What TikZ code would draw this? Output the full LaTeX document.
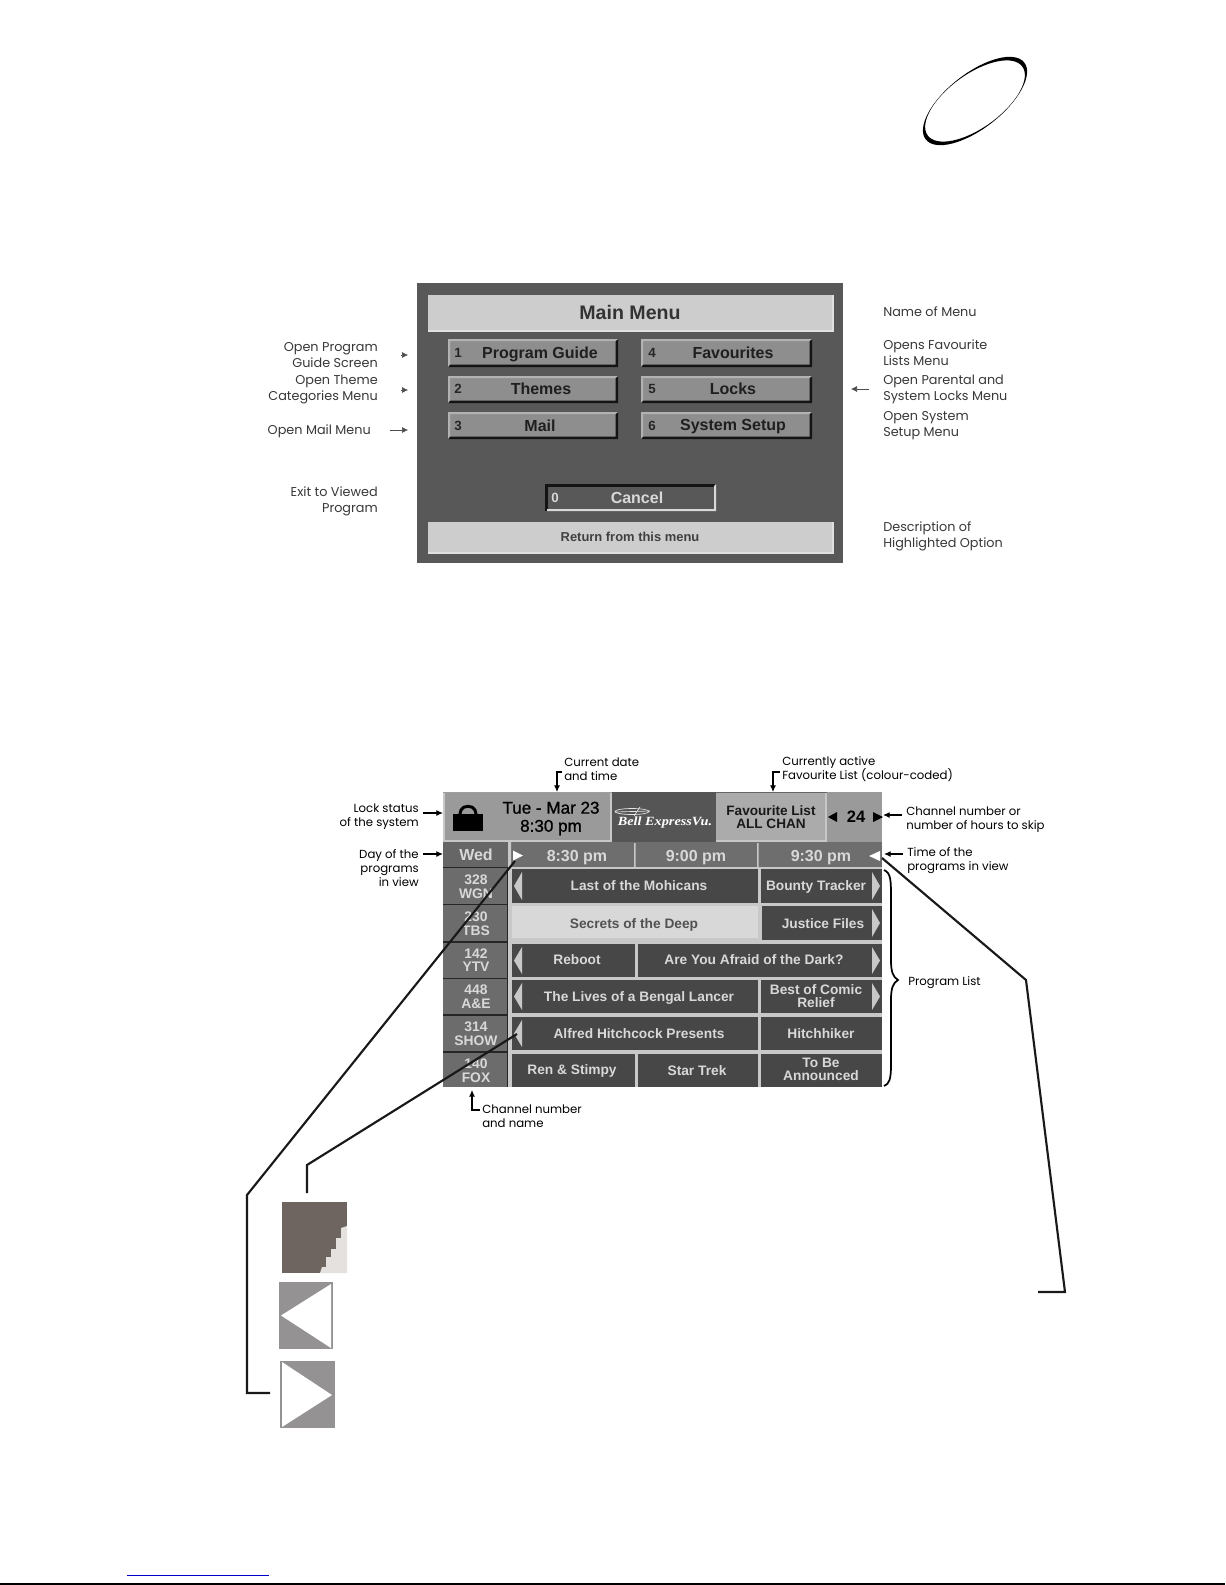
\documentclass[tikz,border=0pt]{standalone}
\usepackage{fontspec}
\setmainfont{Liberation Sans}
\newfontfamily\annfont{Poppins}
\newfontfamily\logofont{Liberation Serif}
\usetikzlibrary{arrows.meta}
\definecolor{panelA}{HTML}{585858}
\definecolor{barA}{HTML}{CDCDCD}
\definecolor{btnA}{HTML}{8E8E8E}
\definecolor{cellD}{HTML}{474747}
\definecolor{chanC}{HTML}{6C6C6C}
\definecolor{timeC}{HTML}{6E6E6E}
\definecolor{topC}{HTML}{9A9A9A}
\definecolor{favC}{HTML}{ABABAB}
\definecolor{logoC}{HTML}{555555}
\definecolor{txtL}{HTML}{D8D8D8}
\definecolor{gapC}{HTML}{C8C8C8}
\definecolor{brownC}{HTML}{6F6560}
\definecolor{lightB}{HTML}{E5E1DE}
\definecolor{triG}{HTML}{949292}
\definecolor{linkB}{HTML}{0000CC}
\tikzset{
  annA/.style={font=\annfont\fontsize{9.6}{12}\selectfont,text=black!78,inner sep=0pt},
  annB/.style={font=\annfont\fontsize{8.8}{10.5}\selectfont,text=black,inner sep=0pt},
  title/.style={font=\bfseries\fontsize{14.7}{17}\selectfont,text=black!80,inner sep=0pt},
  btntxt/.style={font=\bfseries\fontsize{12}{14}\selectfont,text=black!88,inner sep=0pt},
  btnnum/.style={font=\bfseries\fontsize{10}{12}\selectfont,text=black!85,inner sep=0pt},
  bartxt/.style={font=\bfseries\fontsize{9.7}{12}\selectfont,text=black!75,inner sep=0pt},
  head/.style={font=\fontsize{12.8}{13.6}\selectfont\addfontfeatures{FakeBold=1},text=black,align=center,inner sep=0pt},
  favt/.style={font=\bfseries\fontsize{10.2}{9.8}\selectfont,text=black!90,align=center,inner sep=0pt},
  timet/.style={font=\bfseries\fontsize{12}{14}\selectfont,text=txtL,inner sep=0pt},
  chant/.style={font=\bfseries\fontsize{10.4}{10.2}\selectfont,text=txtL,align=center,inner sep=0pt},
  prog/.style={font=\bfseries\fontsize{10.3}{9.9}\selectfont,text=txtL,align=center,inner sep=0pt},
  note/.style={-{Latex[length=5pt,width=4.5pt]},line width=0.8pt,black},
  noteA/.style={-{Latex[length=4.5pt,width=4.5pt]},line width=0.45pt,black!70},
  lead/.style={line width=1.6pt,black!90,line join=miter},
}
% raised button: x1 y1 x2 y2
\newcommand{\raisedbtn}[4]{%
  \fill[btnA] (#1,#2) rectangle (#3,#4);
  \fill[black!92] (#1,#4) -- (#3,#4) -- (#3,#2) -- (#3-2.5,#2+2) -- (#3-2.5,#4-2.5) -- (#1+2,#4-2.5) -- cycle;
  \fill[black!30] (#1,#4) -- (#1,#2) -- (#3,#2) -- (#3-2.5,#2+2) -- (#1+2,#2+2) -- (#1+2,#4-2.5) -- cycle;
}
% guide cell: x1 y1 x2 y2 fill
\newcommand{\guidecell}[5]{\fill[#5] (#1,#2) rectangle (#3,#4);}
\newcommand{\leftarr}[2]{\fill[gapC] (514,{(#1+#2)/2}) -- (522,#1+3) -- (522,#2-3) -- cycle;}
\newcommand{\rightarr}[2]{\fill[gapC] (880,{(#1+#2)/2}) -- (872,#1+3) -- (872,#2-3) -- cycle;}
\begin{document}
\begin{tikzpicture}[x=0.75pt,y=-0.75pt]
\useasboundingbox (0,0) rectangle (1225,1585);
\fill[white] (0,0) rectangle (1225,1585);

% ---- swoosh at the top
\fill[black,even odd rule]
  [rotate around={38:(975,101)}] (975,101) ellipse [x radius=62.5,y radius=27.5]
  [rotate around={-2:(975,101)}] (975,101) ellipse [x radius=58.5,y radius=26.7];

% ---- main menu panel
\fill[panelA] (417,283) rectangle (843,563);
\fill[barA] (428,295) rectangle (833,331);
\draw[black!12,line width=0.9pt] (428,331) -- (833,331) -- (833,295);
\node[title] (mmtitle) at (630,312) {Main Menu};
\raisedbtn{448}{339}{618}{367}
\raisedbtn{448}{376}{618}{403}
\raisedbtn{448}{412}{618}{439}
\raisedbtn{641}{339}{812}{367}
\raisedbtn{641}{376}{812}{403}
\raisedbtn{641}{412}{812}{439}
\node[btnnum] (n1) at (458,353) {1};
\node[btnnum] (n2) at (458,389) {2};
\node[btnnum] (n3) at (458,426) {3};
\node[btnnum] (n4) at (652,353) {4};
\node[btnnum] (n5) at (652,389) {5};
\node[btnnum] (n6) at (652,426) {6};
\node[btntxt] (b1) at (540,354) {Program Guide};
\node[btntxt] (b2) at (541,389) {Themes};
\node[btntxt] (b3) at (540,426) {Mail};
\node[btntxt] (b4) at (733,353) {Favourites};
\node[btntxt] (b5) at (733,389) {Locks};
\node[btntxt] (b6) at (733,427) {System Setup};
% cancel
\fill[black!92] (545,484) rectangle (716,511);
\fill[black!15] (547,511) -- (716,511) -- (716,484) -- (714,486) -- (714,509) -- (547,509) -- cycle;
\fill[panelA] (547.5,486.5) rectangle (714,509);
\node[font=\bfseries\fontsize{10}{12}\selectfont,text=txtL,inner sep=0pt] (n0) at (555,498) {0};
\node[font=\bfseries\fontsize{12}{14}\selectfont,text=txtL,inner sep=0pt] (bcancel) at (637,498) {Cancel};
\fill[barA] (428,522) rectangle (833,553);
\draw[black!12,line width=0.9pt] (428,553) -- (833,553) -- (833,522);
\node[bartxt] (mmdesc) at (630,537) {Return from this menu};

% ---- main menu labels
\node[annA,anchor=east,align=right] (la) at (378,355) {Open Program\\Guide Screen};
\node[annA,anchor=east,align=right] (lb) at (378,389) {Open Theme\\Categories Menu};
\node[annA,anchor=east,align=right] (lc) at (371,431) {Open Mail Menu};
\node[annA,anchor=east,align=right] (ld) at (378,501) {Exit to Viewed\\Program};
\node[annA,anchor=west,align=left] (ra) at (883,312) {Name of Menu};
\node[annA,anchor=west,align=left] (rb) at (883,353) {Opens Favourite\\Lists Menu};
\node[annA,anchor=west,align=left] (rc) at (883,389) {Open Parental and\\System Locks Menu};
\node[annA,anchor=west,align=left] (rd) at (883,426) {Open System\\Setup Menu};
\node[annA,anchor=west,align=left] (re) at (883,536) {Description of\\Highlighted Option};
\coordinate (atipA) at (408,355); \coordinate (atailA) at (401,355);
\coordinate (atipB) at (408,390); \coordinate (atailB) at (401,390);
\coordinate (atipC) at (408,430); \coordinate (atailC) at (390,430);
\coordinate (atipR) at (851,389); \coordinate (atailR) at (869,389);
\draw[noteA] (atailA) -- (atipA);
\draw[noteA] (atailB) -- (atipB);
\draw[noteA] (atailC) -- (atipC);
\draw[noteA] (atailR) -- (atipR);

% ---- guide panel
\guidecell{443}{792}{612}{842}{topC}
\draw[black!38,line width=0.9pt] (443.5,792.5) -- (611,792.5);
\draw[black!22,line width=0.9pt] (444,842) -- (444,793) (444,841) -- (611,841) -- (611,793);
\guidecell{612}{792}{716}{842}{logoC}
\guidecell{716}{792}{827}{842}{favC}
\draw[black!60,line width=0.9pt] (716,792.5) -- (827,792.5);
\draw[black!22,line width=1.4pt] (716,841) -- (826,841) -- (826,793);
\guidecell{827}{792}{882}{842}{topC}
\guidecell{443}{842}{882}{867}{timeC}
\guidecell{443}{842}{508}{867}{black!60}
\fill[gapC] (508,842) rectangle (511,867) (634,843) rectangle (635.5,867) (757,843) rectangle (758.5,867);
\fill[gapC] (508,867) rectangle (882,1087);
\fill[black!85] (443,867) rectangle (508,1087);
% channel cells
\guidecell{443}{868}{507}{903.5}{chanC}
\guidecell{443}{905}{507}{941}{chanC}
\guidecell{443}{942.5}{507}{977.5}{chanC}
\guidecell{443}{979}{507}{1014}{chanC}
\guidecell{443}{1015.5}{507}{1051}{chanC}
\guidecell{443}{1052.5}{507}{1087}{chanC}
% program cells
\guidecell{512}{869}{758}{903}{cellD}
\guidecell{761}{869}{882}{903}{cellD}
\guidecell{512}{906}{758}{938}{txtL}
\guidecell{762}{906}{882}{940}{cellD}
\guidecell{512}{944}{635}{977}{cellD}
\guidecell{638}{944}{882}{977}{cellD}
\guidecell{512}{980}{758}{1013}{cellD}
\guidecell{761}{980}{882}{1013}{cellD}
\guidecell{512}{1017}{758}{1050}{cellD}
\guidecell{761}{1017}{882}{1050}{cellD}
\guidecell{512}{1054}{635}{1087}{cellD}
\guidecell{638}{1054}{758}{1087}{cellD}
\guidecell{761}{1054}{882}{1087}{cellD}
\leftarr{869}{903}\leftarr{944}{977}\leftarr{980}{1013}\leftarr{1017}{1050}
\rightarr{869}{903}\rightarr{906}{940}\rightarr{944}{977}\rightarr{980}{1013}
% lock icon
\draw[black,line width=2.2pt] (459.5,816) -- (461,810) .. controls (463,805) and (473,805) .. (475,810) -- (476.5,816);
\fill[black] (453,814) rectangle (483,831);
% header texts
\node[head] (dt) at (551,818.5) {Tue - Mar 23\\8:30 pm};
\draw[white!90!black,line width=0.5pt] (632,811.5) ellipse [x radius=17,y radius=3];
\draw[white!90!black,line width=0.5pt] (640,807) -- (634,816) (615,812) -- (650,811);
\node[font=\logofont\bfseries\itshape\fontsize{9.4}{10}\selectfont,text=white,inner sep=0pt,xscale=1.14] (logo) at (665,822) {Bell ExpressVu.};
\node[favt] (fav) at (771,817) {Favourite List\\ALL CHAN};
\fill[black] (828,817) -- (837,812) -- (837,822) -- cycle;
\node[font=\bfseries\fontsize{12.4}{14}\selectfont,text=black,inner sep=0pt] (skip) at (856,817) {24};
\fill[black] (883,817) -- (873,812) -- (873,822) -- cycle;
% time row
\node[timet] (wed) at (476,855) {Wed};
\node[timet] (t1) at (577,858) {8:30 pm};
\node[timet] (t2) at (696,858) {9:00 pm};
\node[timet] (t3) at (821,858) {9:30 pm};
\fill[white] (523,855.5) -- (513,850.5) -- (513,860.5) -- cycle;
\fill[white] (869,856) -- (880,851) -- (880,861) -- cycle;
% channels
\node[chant] (c1) at (476,887) {328\\WGN};
\node[chant] (c2) at (476,924) {230\\TBS};
\node[chant] (c3) at (476,960) {142\\YTV};
\node[chant] (c4) at (476,996.5) {448\\A\&E};
\node[chant] (c5) at (476,1034) {314\\SHOW};
\node[chant] (c6) at (476,1070.5) {140\\FOX};
% programs
\node[prog] (p1) at (639,886) {Last of the Mohicans};
\node[prog] (p2) at (816,887) {Bounty Tracker};
\node[prog,text=black!68] (p3) at (634,924.5) {Secrets of the Deep};
\node[prog] (p4) at (823,924) {Justice Files};
\node[prog] (p5) at (577,960) {Reboot};
\node[prog] (p6) at (754,960) {Are You Afraid of the Dark?};
\node[prog] (p7) at (639,997.5) {The Lives of a Bengal Lancer};
\node[prog] (p8) at (816,996) {Best of Comic\\Relief};
\node[prog] (p9) at (639,1034) {Alfred Hitchcock Presents};
\node[prog] (p10) at (821,1034) {Hitchhiker};
\node[prog] (p11) at (572,1071) {Ren \& Stimpy};
\node[prog] (p12) at (697,1071) {Star Trek};
\node[prog] (p13) at (821,1069.5) {To Be\\Announced};

% ---- guide annotations
\node[annB,anchor=west,align=left] (g1) at (564,769) {Current date\\and time};
\node[annB,anchor=west,align=left] (g2) at (782,769) {Currently active\\Favourite List (colour-coded)};
\node[annB,anchor=east,align=right] (g3) at (419,817) {Lock status\\of the system};
\node[annB,anchor=east,align=right] (g4) at (419,868) {Day of the\\programs\\in view};
\node[annB,anchor=west,align=left] (g5) at (906,819.5) {Channel number or\\number of hours to skip};
\node[annB,anchor=west,align=left] (g6) at (907,861) {Time of the\\programs in view};
\node[annB,anchor=west,align=left] (g7) at (482,1116) {Channel number\\and name};
\node[annB,anchor=west] (g8) at (908,983) {Program List};
\coordinate (tipg1) at (557,792);
\coordinate (tipg2) at (773,792);
\coordinate (tipg3) at (443,813);
\coordinate (tipg4) at (443,854);
\coordinate (tipg5) at (883,815);
\coordinate (tipg6) at (884,854);
\coordinate (tipg7) at (472,1090);
\draw[note] (562,772) -| (tipg1);
\draw[note] (780,772) -| (tipg2);
\draw[note] (423,813) -- (tipg3);
\draw[note] (423,854) -- (tipg4);
\draw[note] (902,815) -- (tipg5);
\draw[note] (903,854) -- (tipg6);
\draw[note] (480,1110) -| (tipg7);
% brace
\draw[black,line width=1.3pt] (884,870) .. controls (891,873) and (891,880) .. (891,900)
  -- (891,960) .. controls (891,972) and (893,977) .. (898,980)
  .. controls (893,983) and (891,988) .. (891,1000)
  -- (891,1065) .. controls (891,1080) and (889,1084) .. (884,1086);

% ---- leaders
\coordinate (lA0) at (515,861); \coordinate (lA1) at (247,1195); \coordinate (lA2) at (247,1393); \coordinate (lA3) at (270,1393);
\coordinate (lB0) at (517,1034); \coordinate (lB1) at (307,1165); \coordinate (lB2) at (307,1193);
\coordinate (lC0) at (882,858); \coordinate (lC1) at (1026,980); \coordinate (lC2) at (1065,1292); \coordinate (lC3) at (1038,1292);
\draw[lead] (lA0) -- (lA1) -- (lA2) -- (lA3);
\draw[lead] (lB0) -- (lB1) -- (lB2);
\draw[lead] (lC0) -- (lC1) -- (lC2) -- (lC3);

% ---- enlarged details
\fill[brownC] (282,1202) rectangle (347,1273);
\fill[lightB] (320,1273) -- (322,1267) -- (326,1267) -- (326,1257) -- (331,1257) -- (331,1249) -- (336,1249) -- (336,1238) -- (341,1238) -- (341,1228) -- (347,1226) -- (347,1273) -- cycle;
\fill[triG] (279,1282) rectangle (333,1349);
\fill[white] (281,1315.5) -- (331,1284) -- (331,1348) -- cycle;
\fill[triG] (280,1361) rectangle (335,1428);
\fill[white] (282,1362) -- (332,1395) -- (282,1427) -- cycle;

% ---- page foot
\draw[linkB,line width=0.75pt] (127,1575) -- (269,1575);
\draw[black,line width=1pt] (0,1584) -- (1225,1584);
\end{tikzpicture}
\end{document}
